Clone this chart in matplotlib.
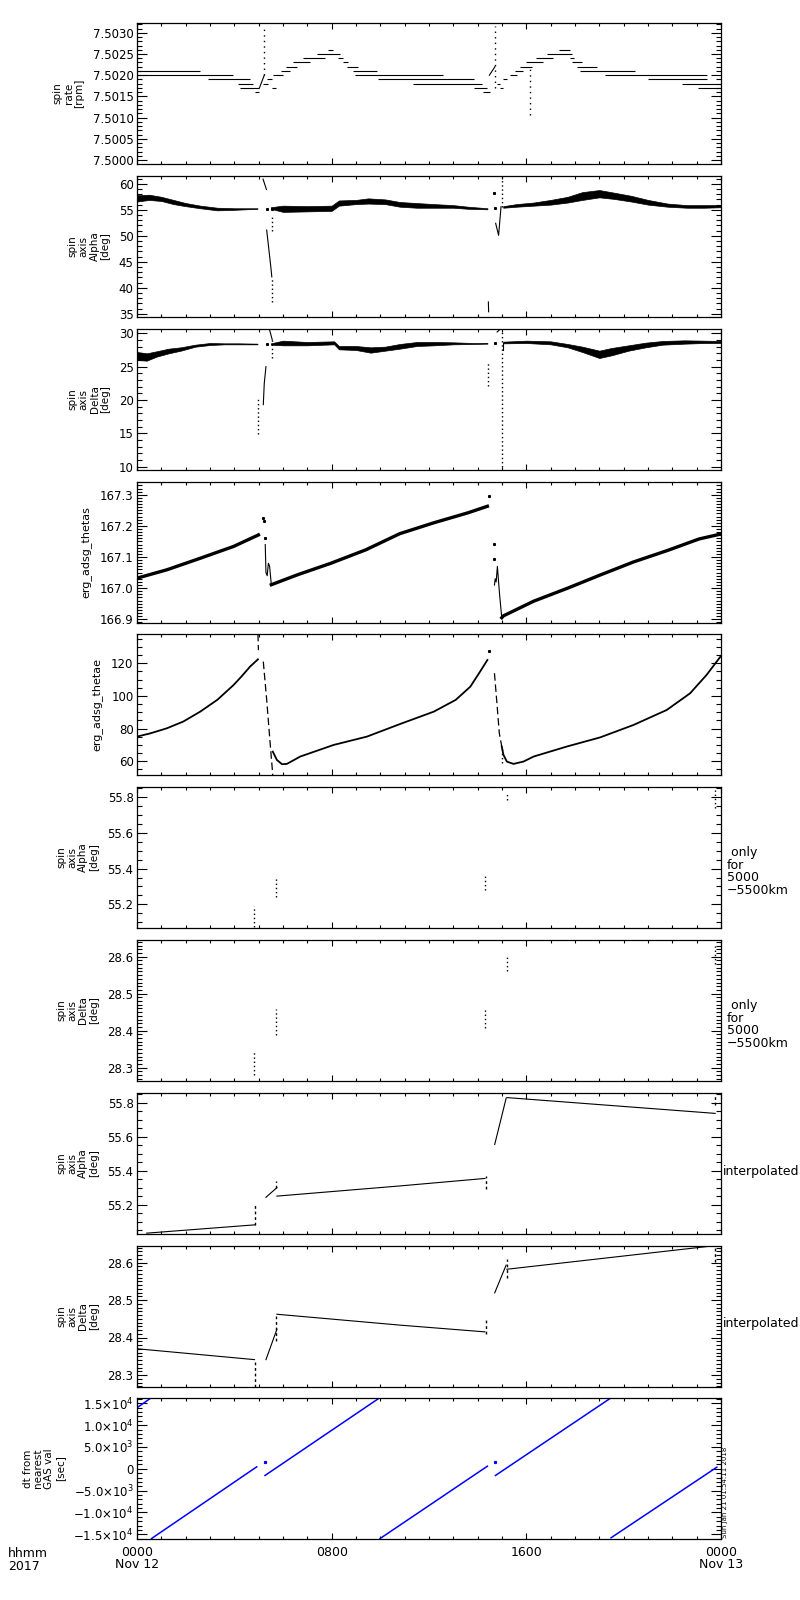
import matplotlib
matplotlib.use('Agg')
import matplotlib.pyplot as plt
from matplotlib.ticker import MultipleLocator, FixedLocator, FixedFormatter

plt.rcParams['font.family'] = ['DejaVu Sans']

# time axis, hours since 2017-11-12 00:00
hour_ticks = [0, 8, 16, 24]
hour_labels = ['0000\nNov 12', '0800', '1600', '0000\nNov 13']

# --- panel 1: spin rate, quantized levels (start, end, level)
rate_t0 = [0.00, 0.00, 2.93, 4.16, 4.23, 4.85, 5.19, 5.33, 5.53, 5.60, 5.92, 6.12, 6.40, 6.84, 7.38, 7.86,
           8.27, 8.48, 8.62, 8.89, 8.96, 9.92, 11.36, 13.85, 14.23, 14.78, 14.92, 15.05, 15.33, 15.53,
           15.74, 15.99, 16.40, 16.84, 17.36, 17.80, 17.87, 18.08, 18.21, 19.25, 21.02, 22.39, 23.04]
rate_t1 = [2.59, 3.96, 4.64, 4.78, 5.03, 5.03, 5.40, 5.53, 5.71, 6.01, 6.29, 6.56, 7.11, 7.73, 8.34, 8.07,
           8.48, 8.69, 9.10, 9.85, 12.59, 13.85, 14.17, 14.40, 14.51, 14.92, 15.05, 15.19, 15.60, 15.88,
           16.22, 16.70, 17.11, 17.87, 17.80, 17.94, 18.28, 18.90, 20.48, 23.41, 23.41, 24.00, 24.00]
rate_lvl = [7.5021, 7.5020, 7.5019, 7.5018, 7.5017, 7.5016, 7.5018, 7.5019, 7.5017, 7.5020, 7.5021,
            7.5022, 7.5023, 7.5024, 7.5025, 7.5026, 7.5024, 7.5023, 7.5022, 7.5021, 7.5020, 7.5019,
            7.5018, 7.5017, 7.5016, 7.5018, 7.5017, 7.5019, 7.5020, 7.5021, 7.5022, 7.5023, 7.5024,
            7.5025, 7.5026, 7.5024, 7.5023, 7.5022, 7.5021, 7.5020, 7.5019, 7.5018, 7.5017]
rate_ramp_t = [[5.03, 5.23], [14.48, 14.71]]
rate_ramp_v = [[7.5017, 7.5020], [7.5020, 7.5022]]
rate_spike_t = [5.23, 14.71, 16.15]
rate_spike_lo = [7.5020, 7.5017, 7.50107]
rate_spike_hi = [7.50315, 7.50315, 7.5022]

# --- panel 2: spin axis alpha, noisy band (lower / upper envelope)
alpha_t = [[0.0, 0.5, 1.0, 1.5, 2.0, 2.6, 3.3, 4.0, 4.95],
           [5.5, 6.0, 7.0, 8.0, 8.3, 9.0, 9.5, 10.2, 10.8, 11.5, 12.2, 13.0, 13.6, 14.4],
           [15.05, 15.6, 16.3, 17.0, 17.7, 18.3, 19.0, 19.6, 20.3, 21.0, 21.8, 22.6, 23.3, 24.0]]
alpha_hi = [[57.8, 57.9, 57.5, 56.9, 56.3, 55.8, 55.4, 55.3, 55.3],
            [55.5, 55.8, 55.7, 55.8, 56.8, 56.9, 57.2, 57.0, 56.5, 56.3, 56.1, 55.9, 55.6, 55.3],
            [55.7, 56.1, 56.4, 56.9, 57.5, 58.4, 58.8, 58.3, 57.7, 56.9, 56.2, 55.9, 55.9, 55.9]]
alpha_lo = [[56.6, 56.9, 56.7, 56.1, 55.7, 55.3, 54.9, 55.0, 55.2],
            [55.2, 54.6, 54.7, 54.8, 55.8, 56.1, 56.2, 56.1, 55.6, 55.4, 55.4, 55.4, 55.2, 55.1],
            [55.4, 55.6, 55.8, 56.0, 56.4, 56.9, 57.4, 57.1, 56.6, 56.0, 55.6, 55.4, 55.4, 55.5]]
alpha_spk_t = [[5.18, 5.32], [5.33, 5.50, 5.54], [14.44, 14.45], [14.74, 14.86, 14.96]]
alpha_spk_v = [[60.9, 58.9], [51.1, 44.0, 42.1], [37.3, 35.4], [52.4, 50.1, 55.6]]
alpha_dot_t = [5.56, 5.56, 15.0]
alpha_dot_lo = [37.3, 51.0, 55.6]
alpha_dot_hi = [42.1, 54.0, 61.5]
alpha_pt_t = [5.33, 5.55, 14.68, 14.71]
alpha_pt_v = [55.1, 55.2, 58.3, 55.4]

# --- panel 3: spin axis delta
delta_t = [[0.0, 0.4, 0.8, 1.3, 1.8, 2.4, 3.0, 3.6, 4.2, 4.95],
           [5.5, 6.0, 7.0, 8.1, 8.3, 9.0, 9.6, 10.2, 10.8, 11.5, 12.2, 13.0, 13.8, 14.4],
           [15.05, 16.0, 17.0, 17.7, 18.3, 19.0, 19.5, 20.2, 20.9, 21.6, 22.5, 23.3, 24.0]]
delta_hi = [[27.2, 27.0, 27.3, 27.7, 27.9, 28.3, 28.55, 28.5, 28.5, 28.45],
            [28.5, 28.9, 28.7, 28.8, 28.1, 28.1, 27.9, 28.0, 28.4, 28.7, 28.7, 28.65, 28.55, 28.55]
            , [28.75, 28.9, 28.8, 28.4, 28.0, 27.4, 27.8, 28.2, 28.6, 28.85, 28.95, 28.9, 28.85]]
delta_lo = [[26.0, 25.9, 26.5, 27.0, 27.4, 28.0, 28.25, 28.35, 28.35, 28.35],
            [28.3, 28.2, 28.2, 28.35, 27.6, 27.5, 27.1, 27.4, 27.7, 28.1, 28.2, 28.35, 28.4, 28.45],
            [28.5, 28.55, 28.35, 27.9, 27.2, 26.3, 26.7, 27.4, 27.9, 28.3, 28.45, 28.55, 28.55]]
delta_spk_t = [[5.19, 5.23, 5.30], [5.45, 5.56], [14.80, 14.95], [15.05, 15.05]]
delta_spk_v = [[19.3, 22.5, 25.0], [30.5, 29.0], [30.2, 30.7], [28.5, 27.5]]
delta_dot_t = [4.98, 5.56, 14.44, 15.02]
delta_dot_lo = [14.9, 26.25, 22.1, 10.0]
delta_dot_hi = [20.5, 29.0, 25.75, 30.25]
delta_pt_t = [5.33, 14.73]
delta_pt_v = [28.4, 28.6]

# --- panel 4: erg_adsg_thetas
thetas_t = [[0.0, 1.23, 2.6, 3.97, 4.99],
            [5.52, 6.6, 7.97, 9.4, 10.8, 12.2, 13.6, 14.4],
            [14.99, 15.06, 16.3, 17.7, 19.03, 20.4, 21.8, 23.1, 24.0]]
thetas_v = [[167.032, 167.059, 167.096, 167.134, 167.171],
            [167.011, 167.043, 167.080, 167.123, 167.175, 167.210, 167.242, 167.263],
            [166.905, 166.911, 166.958, 167.000, 167.042, 167.084, 167.121, 167.158, 167.174]]
thetas_spk_t = [[5.27, 5.30, 5.35, 5.40, 5.45, 5.52], [14.69, 14.72, 14.76, 14.81, 14.90, 14.99]]
thetas_spk_v = [[167.14, 167.05, 167.04, 167.08, 167.07, 167.011],
                [167.01, 167.03, 167.02, 167.07, 166.98, 166.905]]
thetas_pt_t = [5.18, 5.22, 5.25, 14.45, 14.69, 14.69]
thetas_pt_v = [167.225, 167.215, 167.16, 167.295, 167.142, 167.095]

# --- panel 5: erg_adsg_thetae
thetae_t = [[0.0, 0.55, 1.23, 1.9, 2.6, 3.3, 3.97, 4.3, 4.65, 4.97],
            [5.58, 5.75, 5.96, 6.16, 6.71, 8.08, 9.45, 10.81, 12.2, 13.1, 13.7, 14.1, 14.4],
            [14.99, 15.06, 15.2, 15.47, 15.88, 16.3, 17.66, 19.03, 20.4, 21.77, 22.73, 23.41, 24.0]]
thetae_v = [[75.1, 77.1, 80.2, 84.3, 90.4, 97.6, 106.7, 112.0, 118.0, 122.4],
            [65.9, 60.8, 58.2, 58.4, 62.9, 70.0, 75.1, 82.8, 90.4, 97.6, 105.7, 114.9, 122.0],
            [69.0, 63.9, 59.8, 58.4, 59.8, 62.9, 69.0, 74.6, 82.2, 91.4, 101.6, 112.9, 124.5]]
thetae_fall_t = [[4.97, 4.99], [5.19, 5.33, 5.46, 5.58], [14.69, 14.78, 14.89, 14.99]]
thetae_fall_v = [[138.0, 128.0], [121.0, 97.6, 73.1, 51.6], [113.9, 97.6, 77.1, 69.0]]
thetae_dot_t = [14.99]
thetae_dot_lo = [58.8]
thetae_dot_hi = [69.0]
thetae_pt_t = [14.45]
thetae_pt_v = [127.8]

# --- panel 6/7: alpha / delta only for 5000-5500 km (short vertical dotted runs)
alpha_r_t = [4.82, 5.71, 14.30, 15.19, 23.76]
alpha_r_lo = [55.07, 55.243, 55.28, 55.785, 55.74]
alpha_r_hi = [55.19, 55.346, 55.364, 55.83, 55.85]
delta_r_t = [4.82, 5.71, 14.30, 15.19, 23.76]
delta_r_lo = [28.28, 28.388, 28.406, 28.56, 28.58]
delta_r_hi = [28.343, 28.459, 28.46, 28.605, 28.63]

# --- panel 8: alpha interpolated
alpha_i_t = [[0.4, 4.85], [5.3, 5.75], [5.75, 10.81, 14.3], [14.7, 15.17], [15.2, 23.76]]
alpha_i_v = [[55.032, 55.081], [55.243, 55.30], [55.25, 55.31, 55.354], [55.554, 55.826], [55.83, 55.737]]
alpha_i_dot_t = [4.85, 5.72, 14.35, 23.76]
alpha_i_dot_lo = [55.081, 55.30, 55.29, 55.786]
alpha_i_dot_hi = [55.195, 55.34, 55.37, 55.837]

# --- panel 9: delta interpolated
delta_i_t = [[0.0, 4.83], [5.3, 5.75], [5.75, 10.81, 14.3], [14.7, 15.17], [15.2, 23.76]]
delta_i_v = [[28.370, 28.341], [28.341, 28.422], [28.462, 28.433, 28.415], [28.519, 28.593], [28.582, 28.645]]
delta_i_dot_t = [4.85, 5.72, 14.35, 15.2, 23.76]
delta_i_dot_lo = [28.268, 28.39, 28.41, 28.56, 28.60]
delta_i_dot_hi = [28.341, 28.462, 28.45, 28.61, 28.64]

# --- panel 10: dt from nearest GAS value [sec]
dt_t = [[0.0, 0.6], [0.6, 4.92], [5.26, 9.99], [9.99, 14.40], [14.73, 19.44], [19.48, 23.83]]
dt_v = [[13970, 16330], [-15960, 450], [-1530, 16330], [-15970, 600], [-1530, 16100], [-15800, 370]]
dt_pt_t = [5.26, 14.73]
dt_pt_v = [1510, 1600]

# axis ranges and ticks
ylims = [(7.49991, 7.50323), (34.4, 61.5), (9.5, 30.65), (166.888, 167.341), (51.6, 137.9),
         (55.067, 55.858), (28.264, 28.645), (55.027, 55.857), (28.268, 28.644), (-16076, 16214)]
ymajor = [0.0005, 5, 5, 0.1, 20, 0.2, 0.1, 0.2, 0.1, 5000]
yminor = [0.0001, 1, 1, 0.01, 5, 0.05, 0.01, 0.05, 0.01, 1000]
yfmt = ['%.4f', '%d', '%d', '%.1f', '%d', '%.1f', '%.1f', '%.1f', '%.1f', None]
ylabels = ['spin\nrate\n[rpm]', 'spin\naxis\nAlpha\n[deg]', 'spin\naxis\nDelta\n[deg]',
           'erg_adsg_thetas', 'erg_adsg_thetae', 'spin\naxis\nAlpha\n[deg]', 'spin\naxis\nDelta\n[deg]',
           'spin\naxis\nAlpha\n[deg]', 'spin\naxis\nDelta\n[deg]', 'dt from\nnearest\nGAS val\n[sec]']
dt_ticks = [-15000, -10000, -5000, 0, 5000, 10000, 15000]
dt_ticklabels = ['\u22121.5\u00d710$^{4}$', '\u22121.0\u00d710$^{4}$', '\u22125.0\u00d710$^{3}$', '0',
                 '5.0\u00d710$^{3}$', '1.0\u00d710$^{4}$', '1.5\u00d710$^{4}$']

W, H = 800, 1600
fig = plt.figure(figsize=(8, 16), dpi=100)
tops = [23, 176, 329, 482, 634, 787, 940, 1093, 1246, 1398]
axs = []
for i, top in enumerate(tops):
    ax = fig.add_axes([137 / W, 1 - (top + 141) / H, 584 / W, 141 / H])
    ax.set_xlim(0, 24)
    ax.set_ylim(*ylims[i])
    ax.xaxis.set_major_locator(FixedLocator(hour_ticks))
    ax.xaxis.set_minor_locator(MultipleLocator(1))
    if i == 9:
        ax.yaxis.set_major_locator(FixedLocator(dt_ticks))
        ax.yaxis.set_major_formatter(FixedFormatter(dt_ticklabels))
    else:
        ax.yaxis.set_major_locator(MultipleLocator(ymajor[i]))
        ax.yaxis.set_major_formatter(matplotlib.ticker.FormatStrFormatter(yfmt[i]))
    ax.yaxis.set_minor_locator(MultipleLocator(yminor[i]))
    ax.tick_params(which='both', direction='in', top=True, right=True, width=0.8, labelsize=8.5, pad=2.5)
    ax.tick_params(axis='y', which='major', length=7.5)
    ax.tick_params(axis='y', which='minor', length=3.5)
    ax.tick_params(axis='x', which='major', length=4)
    ax.tick_params(axis='x', which='minor', length=2.5)
    if i < 9:
        ax.tick_params(axis='x', labelbottom=False)
    for s in ax.spines.values():
        s.set_linewidth(0.9)
    fs = 8 if i in (3, 4) else 7.5
    ax.set_ylabel(ylabels[i], fontsize=fs, linespacing=1.1, labelpad=6)
    axs.append(ax)

k = dict(color='k', lw=0.8)

# panel 1
ax = axs[0]
ax.hlines(rate_lvl, rate_t0, rate_t1, **k)
for t, v in zip(rate_ramp_t, rate_ramp_v):
    ax.plot(t, v, **k)
ax.vlines(rate_spike_t, rate_spike_lo, rate_spike_hi, colors='k', lw=1.0, linestyles=(0, (1, 3)))

# panel 2
ax = axs[1]
for t, lo, hi in zip(alpha_t, alpha_lo, alpha_hi):
    ax.fill_between(t, lo, hi, color='k', lw=0.5)
for t, v in zip(alpha_spk_t, alpha_spk_v):
    ax.plot(t, v, **k)
ax.vlines(alpha_dot_t, alpha_dot_lo, alpha_dot_hi, colors='k', lw=1.0, linestyles=(0, (1, 2)))
ax.plot(alpha_pt_t, alpha_pt_v, 's', color='k', ms=1.2)

# panel 3
ax = axs[2]
for t, lo, hi in zip(delta_t, delta_lo, delta_hi):
    ax.fill_between(t, lo, hi, color='k', lw=0.5)
for t, v in zip(delta_spk_t, delta_spk_v):
    ax.plot(t, v, **k)
ax.vlines(delta_dot_t, delta_dot_lo, delta_dot_hi, colors='k', lw=1.0, linestyles=(0, (1, 2)))
ax.plot(delta_pt_t, delta_pt_v, 's', color='k', ms=1.2)

# panel 4
ax = axs[3]
for t, v in zip(thetas_t, thetas_v):
    ax.plot(t, v, color='k', lw=2.4)
for t, v in zip(thetas_spk_t, thetas_spk_v):
    ax.plot(t, v, **k)
ax.plot(thetas_pt_t, thetas_pt_v, 's', color='k', ms=1.2)

# panel 5
ax = axs[4]
for t, v in zip(thetae_t, thetae_v):
    ax.plot(t, v, color='k', lw=1.3)
for t, v in zip(thetae_fall_t, thetae_fall_v):
    ax.plot(t, v, color='k', lw=0.9, ls=(0, (6, 3)))
ax.vlines(thetae_dot_t, thetae_dot_lo, thetae_dot_hi, colors='k', lw=1.0, linestyles=(0, (1, 2)))
ax.plot(thetae_pt_t, thetae_pt_v, 's', color='k', ms=1.2)

# panels 6, 7
axs[5].vlines(alpha_r_t, alpha_r_lo, alpha_r_hi, colors='k', lw=1.0, linestyles=(0, (1, 2)))
axs[6].vlines(delta_r_t, delta_r_lo, delta_r_hi, colors='k', lw=1.0, linestyles=(0, (1, 2)))

# panels 8, 9
for t, v in zip(alpha_i_t, alpha_i_v):
    axs[7].plot(t, v, **k)
axs[7].vlines(alpha_i_dot_t, alpha_i_dot_lo, alpha_i_dot_hi, colors='k', lw=1.0, linestyles=(0, (2, 2)))
for t, v in zip(delta_i_t, delta_i_v):
    axs[8].plot(t, v, **k)
axs[8].vlines(delta_i_dot_t, delta_i_dot_lo, delta_i_dot_hi, colors='k', lw=1.0, linestyles=(0, (2, 2)))

# panel 10
ax = axs[9]
for t, v in zip(dt_t, dt_v):
    ax.plot(t, v, color='#0000ff', lw=1.1)
ax.plot(dt_pt_t, dt_pt_v, 's', color='#0000ff', ms=1.3)
ax.set_xticklabels(hour_labels, fontsize=9, linespacing=0.95)
ax.tick_params(axis='x', which='major', pad=5)

# side notes
for i in (5, 6):
    axs[i].text(1.01, 0.40, ' only\nfor\n5000\n\u22125500km', transform=axs[i].transAxes,
                fontsize=9, va='center', ha='left', linespacing=0.95)
for i, y in ((7, 0.44), (8, 0.447)):
    axs[i].text(1.003, y, 'interpolated', transform=axs[i].transAxes,
                fontsize=9, va='center', ha='left', zorder=5)

fig.text(8 / W, 1 - 1547 / H, 'hhmm\n2017', fontsize=9, va='top', ha='left', linespacing=0.95)
fig.text(725 / W, 1 - 1538 / H, 'Sun Jan 21 01:54:11 2018', fontsize=5, rotation=90,
         ha='center', va='bottom')

fig.savefig('out.png', dpi=100)
